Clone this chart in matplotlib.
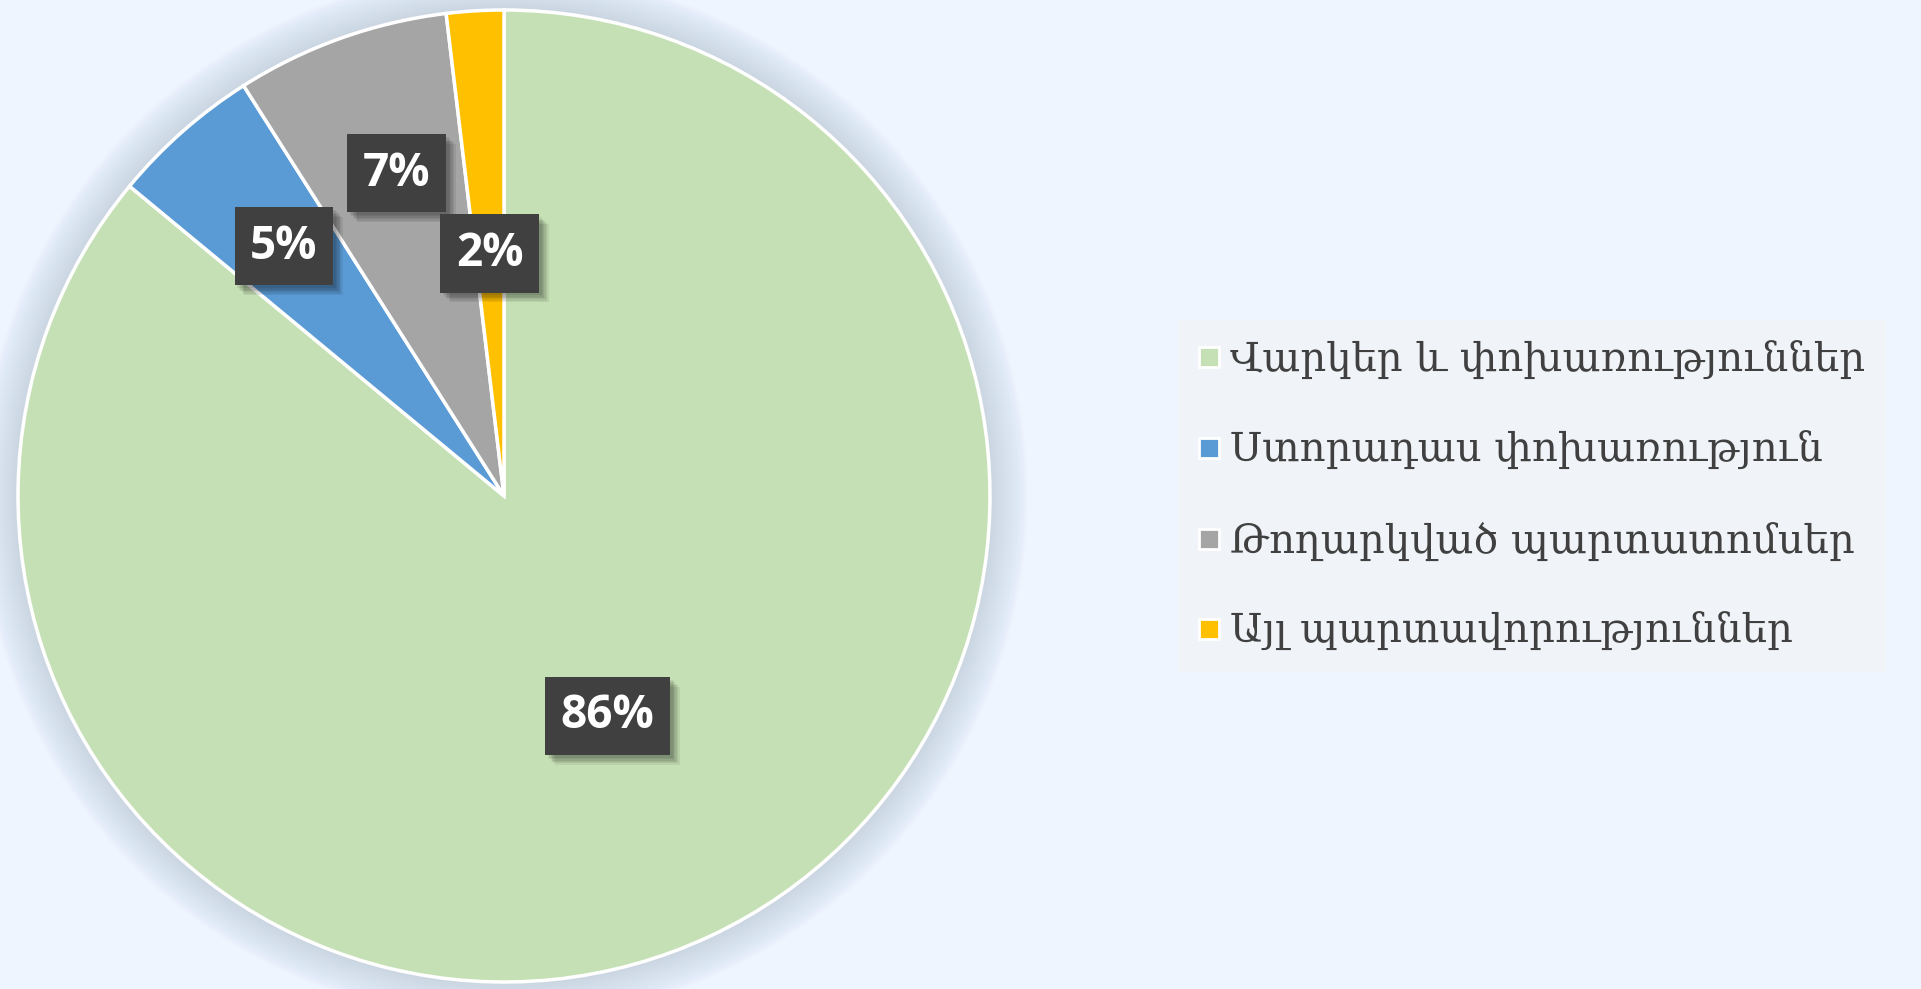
import numpy as np
import matplotlib.pyplot as plt
import matplotlib.patheffects as pe
from matplotlib.lines import Line2D
from matplotlib.patches import Circle

categories = [
    "Վարկեր և փոխառություններ",
    "Ստորադաս փոխառություն",
    "Թողարկված պարտատոմսեր",
    "Այլ պարտավորություններ",
]
shares = [86.0, 5.0, 7.1, 1.9]
pct_labels = ["86%", "5%", "7%", "2%"]
colors = ["#C5E0B4", "#5B9BD5", "#A5A5A5", "#FFC000"]
label_dist = [0.50, 0.685, 0.70, 0.50]
label_turn = [0.0, 0.0, -1.2, 0.0]  # small angular nudges, degrees

BG = "#EEF5FE"

fig = plt.figure(figsize=(19.21, 9.89), dpi=100, facecolor=BG)
ax = fig.add_axes([18 / 1921, 7 / 989, 972 / 1921, 972 / 989])
ax.set_facecolor(BG)
ax.axis("off")

# soft outer shadow round the pie
for k in range(28):
    ax.add_patch(Circle((0, 0), 1.0 + 0.0028 * (k + 1), color="#8A98B0",
                        alpha=0.013, lw=0, zorder=0, clip_on=False))

wedges, _ = ax.pie(
    shares, colors=colors, startangle=90, counterclock=False, radius=1.0,
    wedgeprops=dict(edgecolor="white", linewidth=2.5),
)
for w in wedges:
    w.set_zorder(2)
ax.set_xlim(-1, 1)
ax.set_ylim(-1, 1)
ax.set_aspect("equal")

# blurred-looking drop shadow: several faint offset copies
soft_shadow = [pe.SimplePatchShadow(offset=(d, -d), shadow_rgbFace="black", alpha=0.07)
               for d in (2, 3, 4, 5, 6, 7)]

total = sum(shares)
start = 90.0
for i, (v, lab) in enumerate(zip(shares, pct_labels)):
    span = v / total * 360
    mid = np.deg2rad(start - span / 2 + label_turn[i])
    start -= span
    x, y = label_dist[i] * np.cos(mid), label_dist[i] * np.sin(mid)
    t = ax.text(x, y, lab, ha="center", va="center", color="white",
                fontsize=33, fontweight="bold", family="Open Sans", zorder=5,
                bbox=dict(boxstyle="square,pad=0.34", fc="#404040", ec="none"))
    t.get_bbox_patch().set_path_effects(soft_shadow + [pe.Normal()])

handles = [Line2D([], [], marker="s", linestyle="none", markersize=15,
                  markerfacecolor=c, markeredgecolor="white", markeredgewidth=2)
           for c in colors]
leg = fig.legend(handles, categories, loc="center left",
                 bbox_to_anchor=(1178 / 1921, 1 - 496 / 989),
                 frameon=True, fancybox=False, facecolor="#F0F3F8",
                 edgecolor="none", framealpha=1,
                 prop={"family": ["DejaVu Serif", "DejaVu Sans"], "size": 29},
                 handlelength=0.55, handletextpad=0.25, labelspacing=1.28,
                 borderpad=0.5, borderaxespad=0)
for txt in leg.get_texts():
    txt.set_color("#404040")

fig.savefig("out.png", dpi=100, facecolor=BG)
